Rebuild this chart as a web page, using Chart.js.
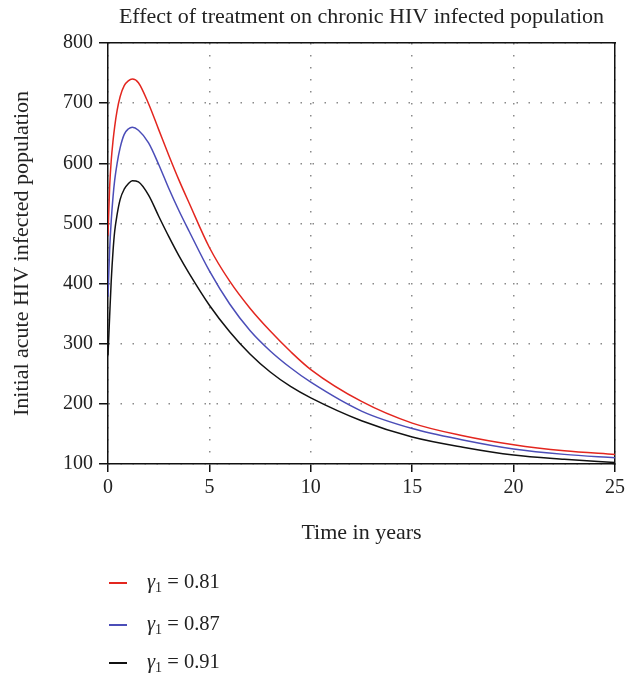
<!DOCTYPE html>
<html>
<head>
<meta charset="utf-8">
<script src="https://cdn.jsdelivr.net/npm/chart.js@4"></script>
<style>
  body { margin: 0; background: #fff; }
  #wrap { position: relative; width: 640px; height: 674px; }
  #legend { position: absolute; left: 0; top: 0; font-family: "Liberation Serif", "DejaVu Serif", serif; font-size: 20.5px; color: #222; }
  .item { position: absolute; left: 0; height: 30px; width: 300px; }
  .swatch { position: absolute; left: 109px; top: 14px; width: 18px; height: 1.5px; }
  .txt { position: absolute; left: 147px; top: 2px; white-space: nowrap; }
  .txt sub { font-size: 14px; vertical-align: -4px; }
</style>
</head>
<body>
<div id="wrap">
  <canvas id="myChart" width="640" height="674"></canvas>
  <div id="legend"></div>
</div>
<script>
// Werte
const timeYears = [0, 0.08, 0.16, 0.25, 0.33, 0.45, 0.6, 0.8, 1.0, 1.2, 1.5, 2, 2.5, 3, 3.5, 4, 5, 6, 7, 8, 9, 10, 12.5, 15, 17.5, 20, 22.5, 25];
const gamma081 = [480, 560, 605, 638, 661, 688, 711, 729, 737, 740, 734, 699, 656, 613, 572, 534, 460, 404, 359, 321, 287, 257, 204, 168, 147, 132, 122, 116];
const gamma087 = [378, 455, 505, 545, 572, 600, 626, 648, 657, 660, 655, 634, 598, 558, 521, 487, 421, 366, 322, 288, 260, 236, 188, 159, 140, 125, 116, 110.5];
const gamma091 = [281, 345, 405, 455, 487, 515, 540, 557, 566, 571, 569, 547, 512, 478, 446, 417, 364, 320, 283, 253, 229, 210, 172, 145, 128, 115, 108, 102.5];

const gammaLabels = ['0.81', '0.87', '0.91'];
const lineColors = ['#e3261f', '#4b4db8', '#111111'];
const xTicks = [0, 5, 10, 15, 20, 25];

const serif = '"Liberation Serif", "DejaVu Serif", serif';

function points(values) {
    return timeYears.map(function(t, i) {
        return { x: t, y: values[i] };
    });
}

const series = [gamma081, gamma087, gamma091];
const datasets = series.map(function(values, i) {
    return {
        label: 'γ1 = ' + gammaLabels[i],
        data: points(values),
        borderColor: lineColors[i],
        borderWidth: 1.5,
        pointRadius: 0,
        fill: false,
        cubicInterpolationMode: 'monotone'
    };
});

const dotted = {
    color: '#8a8a8a',
    lineWidth: 1.5,
    tickColor: '#111',
    tickWidth: 1.5,
    tickBorderDash: []
};

const ctx = document.getElementById('myChart');
const chart = new Chart(ctx, {
    type: 'line',
    data: { datasets: datasets },
    options: {
        responsive: false,
        animation: false,
        layout: { padding: { left: 0, right: 25, top: 0, bottom: 120 } },
        plugins: {
            legend: { display: false },
            tooltip: { enabled: false }
        },
        scales: {
            x: {
                type: 'linear',
                position: 'bottom',
                min: 0,
                max: 25,
                afterBuildTicks: function(scale) {
                    scale.ticks = xTicks.map(function(v) { return { value: v }; });
                },
                afterFit: function(scale) { scale.height = 90; },
                ticks: { font: { family: serif, size: 20 }, color: '#222', padding: 4, maxRotation: 0 },
                grid: Object.assign({ tickLength: 8 }, dotted),
                border: { display: true, color: '#111', width: 1.5, dash: [1.5, 10.5] },
                title: {
                    display: true,
                    text: 'Time in years',
                    font: { family: serif, size: 22 },
                    color: '#222',
                    padding: { top: 0, bottom: 8 }
                }
            },
            y: {
                type: 'linear',
                position: 'left',
                min: 100,
                max: 800,
                afterFit: function(scale) { scale.width = 108; },
                ticks: { stepSize: 100, font: { family: serif, size: 20 }, color: '#222', padding: 6 },
                grid: Object.assign({ tickLength: 9 }, dotted),
                border: { display: true, color: '#111', width: 1.5, dash: [1.5, 10.5] },
                title: {
                    display: true,
                    text: 'Initial acute HIV infected population',
                    font: { family: serif, size: 22 },
                    color: '#222',
                    padding: { top: 9, bottom: 0 }
                }
            },
            x2: {
                type: 'linear',
                position: 'top',
                min: 0,
                max: 25,
                afterFit: function(scale) { scale.height = 43; },
                ticks: { display: false },
                grid: { display: false, drawTicks: false },
                border: { display: true, color: '#111', width: 1.5 },
                title: {
                    display: true,
                    text: 'Effect of treatment on chronic HIV infected population',
                    font: { family: serif, size: 22 },
                    color: '#222',
                    padding: { top: 4, bottom: 0 }
                }
            },
            y2: {
                type: 'linear',
                position: 'right',
                min: 100,
                max: 800,
                afterFit: function(scale) { scale.width = 0; },
                ticks: { display: false },
                grid: { display: false, drawTicks: false },
                border: { display: true, color: '#111', width: 1.5 }
            }
        }
    }
});

// Legende untereinander, wie im Original
const legendDiv = document.getElementById('legend');
const rowTops = [568, 610, 648];
chart.data.datasets.forEach(function(ds, i) {
    legendDiv.innerHTML += `
        <div class="item" style="top:${rowTops[i]}px;">
            <div class="swatch" style="background:${ds.borderColor};"></div>
            <div class="txt"><i>γ</i><sub>1</sub> = ${gammaLabels[i]}</div>
        </div>
    `;
});
</script>
</body>
</html>
